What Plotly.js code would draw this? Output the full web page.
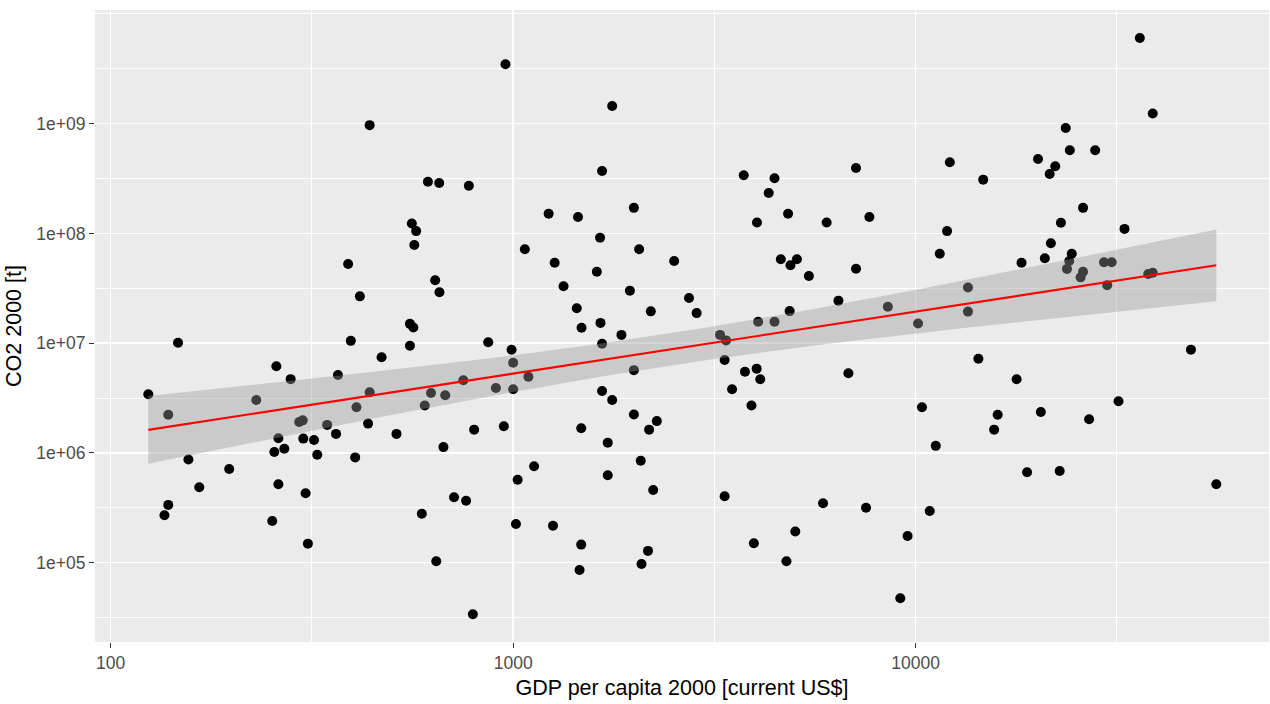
<!DOCTYPE html>
<html><head><meta charset="utf-8">
<script src="https://cdn.plot.ly/plotly-3.0.1.min.js"></script>
<style>html,body{margin:0;padding:0;background:#fff}</style>
</head><body><div id="chart" style="width:1270px;height:704px"></div>
<script>
const gdpPerCapita = [
440,614,655,776,560,574,568,389,640,656,416,554,565,957,1762,1663,3740,4460,7110,4315,
1225,1449,1995,4035,4820,6010,7675,1069,1644,2056,1268,1614,2512,4624,4886,5070,5430,7110,1334,1950,
1439,2198,2735,2857,6430,4864,1479,1648,4062,4460,8530,36060,38820,23600,24160,27930,20140,22230,21530,12160,
14720,26060,22960,11970,33040,21680,11480,24430,18330,20940,24080,23770,26060,25700,29380,30700,29920,37840,38820,13490,
13490,10140,147,124,139,258,280,395,471,554,867,367,230,440,408,294,300,345,625,603,
678,752,906,261,255,270,301,320,326,363,436,513,405,800,671,156,197,166,261,305,
139,136,252,713,764,593,309,644,794,991,1000,1000,1091,1663,1858,1995,3266,3380,3353,3767,
4027,4111,3499,3909,6807,948,1663,1762,1995,2177,2275,1476,1718,1127,1026,1718,2075,2228,3353,5888,
7530,1016,1256,1476,1462,2163,2084,3963,5024,4775,14320,17820,48310,10370,15990,15670,20470,26980,31920,11220,
18920,22800,55850,10840,9550,9160
];
const co2Tonnes = [
9.7e8,2.96e8,2.88e8,2.72e8,1.23e8,1.05e8,7.85e7,5.27e7,3.74e7,2.91e7,2.67e7,1.50e7,1.39e7,3.48e9,1.45e9,3.71e8,3.39e8,3.18e8,3.94e8,2.34e8,
1.51e8,1.41e8,1.71e8,1.26e8,1.51e8,1.26e8,1.41e8,7.17e7,9.15e7,7.17e7,5.41e7,4.48e7,5.61e7,5.81e7,5.13e7,5.81e7,4.09e7,4.77e7,3.30e7,3.01e7,
2.08e7,1.95e7,2.58e7,1.88e7,2.44e7,1.96e7,1.38e7,1.53e7,1.57e7,1.57e7,2.15e7,6.04e9,1.24e9,9.14e8,5.72e8,5.72e8,4.76e8,4.09e8,3.48e8,4.45e8,
3.09e8,1.71e8,1.25e8,1.05e8,1.10e8,8.13e7,6.53e7,6.53e7,5.41e7,5.94e7,5.61e7,4.75e7,4.48e7,3.98e7,5.46e7,5.46e7,3.38e7,4.27e7,4.39e7,3.22e7,
1.94e7,1.51e7,1.01e7,3.43e6,2.23e6,6.17e6,4.70e6,1.05e7,7.44e6,9.49e6,1.02e7,5.13e6,3.03e6,3.57e6,2.61e6,1.91e6,1.98e6,1.80e6,3.52e6,2.70e6,
3.35e6,4.59e6,3.91e6,1.36e6,1.02e6,1.09e6,1.35e6,1.31e6,9.62e5,1.49e6,1.85e6,1.49e6,9.10e5,1.63e6,1.13e6,8.71e5,7.14e5,4.86e5,5.18e5,4.29e5,
3.36e5,2.70e5,2.40e5,3.94e5,3.67e5,2.79e5,1.49e5,1.03e5,3.39e4,8.71e6,6.64e6,3.80e6,4.95e6,9.89e6,1.19e7,5.68e6,1.19e7,1.06e7,7.03e6,5.50e6,
5.86e6,4.69e6,3.80e6,2.70e6,5.32e6,1.75e6,3.67e6,3.03e6,2.24e6,1.63e6,1.95e6,1.68e6,1.24e6,7.55e5,5.70e5,6.25e5,8.49e5,4.59e5,4.03e5,3.48e5,
3.17e5,2.25e5,2.17e5,1.46e5,8.58e4,1.28e5,9.73e4,1.50e5,1.92e5,1.03e5,7.22e6,4.69e6,8.73e6,2.61e6,2.23e6,1.63e6,2.36e6,2.03e6,2.96e6,1.16e6,
6.67e5,6.85e5,5.18e5,2.96e5,1.75e5,4.74e4
];
const xTickValues = [100, 1000, 10000];
const xTickLabels = ["100", "1000", "10000"];
const yTickValues = [1e5, 1e6, 1e7, 1e8, 1e9];
const yTickLabels = ["1e+05", "1e+06", "1e+07", "1e+08", "1e+09"];
const xMinorGrid = [316.23, 3162.3, 31623];
const yMinorGrid = [31623, 316230, 3162300, 31623000, 316230000, 3162300000, 1e10];
const xTitle = "GDP per capita 2000 [current US$]";
const yTitle = "CO2 2000 [t]";

// linear model log10(co2) ~ log10(gdp), with 95% confidence band (like geom_smooth(method="lm"))
const lx = gdpPerCapita.map(v => Math.log10(v));
const ly = co2Tonnes.map(v => Math.log10(v));
const n = lx.length;
const mx = lx.reduce((a,b)=>a+b,0)/n, my = ly.reduce((a,b)=>a+b,0)/n;
let sxx = 0, sxy = 0;
for (let i=0;i<n;i++){ sxx += (lx[i]-mx)**2; sxy += (lx[i]-mx)*(ly[i]-my); }
const slope = sxy/sxx, icpt = my - slope*mx;
let sse = 0;
for (let i=0;i<n;i++){ sse += (ly[i]-icpt-slope*lx[i])**2; }
const s = Math.sqrt(sse/(n-2));
const tq = 1.973;
const xmin = Math.min(...lx), xmax = Math.max(...lx);
const gx = [], gy = [], gup = [], glo = [];
for (let k=0;k<80;k++){
  const x = xmin + (xmax-xmin)*k/79;
  const f = icpt + slope*x;
  const se = s*Math.sqrt(1/n + (x-mx)**2/sxx);
  gx.push(Math.pow(10,x)); gy.push(Math.pow(10,f));
  gup.push(Math.pow(10,f+tq*se)); glo.push(Math.pow(10,f-tq*se));
}
const bandX = gx.concat(gx.slice().reverse());
const bandY = gup.concat(glo.slice().reverse());

const traces = [
  {x: gdpPerCapita, y: co2Tonnes, type:'scatter', mode:'markers',
   marker:{color:'#000000', size:10, line:{width:0}}, hoverinfo:'skip', showlegend:false},
  {x: bandX, y: bandY, type:'scatter', mode:'lines', fill:'toself',
   fillcolor:'rgba(153,153,153,0.4)', line:{width:0, color:'rgba(0,0,0,0)'}, hoverinfo:'skip', showlegend:false},
  {x: gx, y: gy, type:'scatter', mode:'lines', line:{color:'#FF0000', width:2.1}, hoverinfo:'skip', showlegend:false}
];

const axisFont = {family:'"Liberation Sans", Arial, sans-serif', size:17.5, color:'#4D4D4D'};
const titleFont = {family:'"Liberation Sans", Arial, sans-serif', size:21.5, color:'#000000'};

const layout = {
  width:1270, height:704,
  margin:{l:95, r:1, t:10, b:62, pad:0},
  paper_bgcolor:'#FFFFFF', plot_bgcolor:'#EBEBEB',
  showlegend:false,
  xaxis:{type:'log', range:[1.961, 4.878], tickmode:'array', tickvals:xTickValues, ticktext:xTickLabels,
    ticks:'outside', ticklen:5, tickwidth:1, tickcolor:'#333333', tickfont:axisFont,
    showgrid:true, gridcolor:'#FFFFFF', gridwidth:1.5, zeroline:false, showline:false,
    minor:{tickmode:'array', tickvals:xMinorGrid, showgrid:true, gridcolor:'#FFFFFF', gridwidth:1.0, ticks:''},
    title:{text:xTitle, font:titleFont, standoff:7}, automargin:false, fixedrange:true},
  yaxis:{type:'log', range:[4.277, 10.036], tickmode:'array', tickvals:yTickValues, ticktext:yTickLabels,
    ticks:'outside', ticklen:5, tickwidth:1, tickcolor:'#333333', tickfont:axisFont,
    showgrid:true, gridcolor:'#FFFFFF', gridwidth:1.5, zeroline:false, showline:false,
    minor:{tickmode:'array', tickvals:yMinorGrid, showgrid:true, gridcolor:'#FFFFFF', gridwidth:1.0, ticks:''},
    title:{text:yTitle, font:titleFont, standoff:8}, automargin:false, fixedrange:true}
};

Plotly.newPlot('chart', traces, layout, {staticPlot:true, displayModeBar:false});
</script></body></html>
